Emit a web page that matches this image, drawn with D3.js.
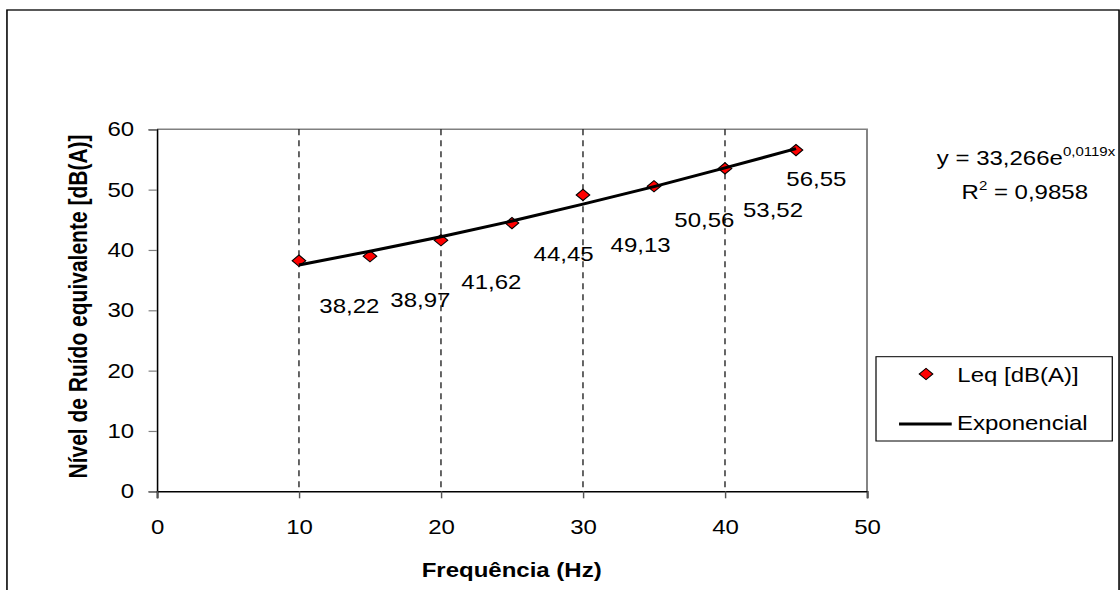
<!DOCTYPE html>
<html>
<head>
<meta charset="utf-8">
<script src="https://cdn.jsdelivr.net/npm/d3@7"></script>
<style>
  body { margin: 0; background: #fff; }
  svg { display: block; }
  text { font-family: "Liberation Sans", Arial, sans-serif; fill: #000; }
</style>
</head>
<body>
<svg id="chart"></svg>
<script>
// the original picture is stretched sideways, so draw in a narrower box and stretch it
var outW = 1120;
var outH = 590;
var stretch = 1.2;
var width = outW / stretch;
var height = outH;

// data
var freq = [10, 15, 20, 25, 30, 35, 40, 45];
var leq = [38.22, 38.97, 41.62, 44.45, 49.13, 50.56, 53.52, 56.55];
var labelText = ["38,22", "38,97", "41,62", "44,45", "49,13", "50,56", "53,52", "56,55"];
// trend line at each frequency
var trendValues = [37.5, 39.8, 42.2, 44.8, 47.6, 50.5, 53.6, 56.8];
var xTicks = [0, 10, 20, 30, 40, 50];
var yTicks = [0, 10, 20, 30, 40, 50, 60];
var gridTicks = [10, 20, 30, 40];

// where each data label sits relative to its point (labels were dragged by hand)
var labelDx = [42, 42, 42, 43, 48, 42, 40, 17];
var labelDy = [52, 51, 49, 38, 57, 41, 49, 36];

var svg = d3.select("#chart")
    .attr("width", outW)
    .attr("height", outH)
    .attr("viewBox", "0 0 " + width + " " + height)
    .attr("preserveAspectRatio", "none");

// outer frame (bottom is cut off in the picture)
svg.append("rect")
    .attr("x", 5.8)
    .attr("y", 10)
    .attr("width", width - 0.8 - 5.8)
    .attr("height", 620)
    .attr("fill", "none")
    .attr("stroke", "#000")
    .attr("stroke-width", 1.3);

var x = d3.scaleLinear().domain([0, 50]).range([130.8, 722.5]);
var y = d3.scaleLinear().domain([0, 60]).range([491.3, 129.3]);

// plot area border: top and right in grey
svg.append("path")
    .attr("d", "M" + x(0) + "," + y(60) + "H" + x(50) + "V" + y(0))
    .attr("fill", "none")
    .attr("stroke", "#808080")
    .attr("stroke-width", 1.6);

// dashed vertical gridlines
svg.selectAll(".grid")
    .data(gridTicks)
    .enter()
    .append("line")
    .attr("class", "grid")
    .attr("x1", function(d) { return x(d); })
    .attr("x2", function(d) { return x(d); })
    .attr("y1", y(60))
    .attr("y2", y(0))
    .attr("stroke", "#000")
    .attr("stroke-width", 1)
    .attr("stroke-dasharray", "6,5");

// y axis
var yAxis = d3.axisLeft(y).tickValues(yTicks).tickSize(7).tickPadding(12);
var yg = svg.append("g")
    .attr("transform", "translate(" + x(0) + ",0)")
    .call(yAxis);
yg.select(".domain").attr("stroke", "#000").attr("stroke-width", 1.3);
yg.selectAll(".tick line").attr("stroke", "#808080").attr("stroke-width", 1.2);
yg.selectAll(".tick text")
    .attr("font-size", "20px")
    .attr("font-family", "Liberation Sans, Arial, sans-serif");

// x axis
var xAxis = d3.axisBottom(x).tickValues(xTicks).tickSize(7);
var xg = svg.append("g")
    .attr("transform", "translate(0," + y(0) + ")")
    .call(xAxis);
xg.select(".domain").attr("stroke", "#000").attr("stroke-width", 1.5);
xg.selectAll(".tick line").attr("stroke", "#555").attr("stroke-width", 1.2);
xg.selectAll(".tick text")
    .attr("y", 43)
    .attr("dy", 0)
    .attr("font-size", "20px")
    .attr("font-family", "Liberation Sans, Arial, sans-serif");

// axis titles
svg.append("text")
    .attr("x", 426.4)
    .attr("y", 577)
    .attr("text-anchor", "middle")
    .attr("font-size", "20px")
    .attr("font-weight", "bold")
    .text("Frequência (Hz)");

svg.append("text")
    .attr("transform", "translate(72.2,306.5) rotate(-90)")
    .attr("text-anchor", "middle")
    .attr("font-size", "21px")
    .attr("font-weight", "bold")
    .text("Nível de Ruído equivalente [dB(A)]");

var diamond = d3.symbol().type(d3.symbolSquare).size(64);

// points
svg.selectAll(".pt")
    .data(freq)
    .enter()
    .append("path")
    .attr("class", "pt")
    .attr("d", diamond)
    .attr("transform", function(d, i) {
        return "translate(" + x(d) + "," + y(leq[i]) + ") rotate(45)";
    })
    .attr("fill", "#ff0000")
    .attr("stroke", "#000")
    .attr("stroke-width", 1);

// exponential trend line
var line = d3.line()
    .x(function(d, i) { return x(freq[i]); })
    .y(function(d) { return y(d); });

svg.append("path")
    .datum(trendValues)
    .attr("d", line)
    .attr("fill", "none")
    .attr("stroke", "#000")
    .attr("stroke-width", 3);

// data labels
svg.selectAll(".lbl")
    .data(freq)
    .enter()
    .append("text")
    .attr("class", "lbl")
    .attr("x", function(d, i) { return x(d) + labelDx[i]; })
    .attr("y", function(d, i) { return y(leq[i]) + labelDy[i]; })
    .attr("text-anchor", "middle")
    .attr("font-size", "20px")
    .text(function(d, i) { return labelText[i]; });

// trend equation
var eq = svg.append("text")
    .attr("x", 855)
    .attr("y", 165)
    .attr("text-anchor", "middle")
    .attr("font-size", "20px");
eq.append("tspan").text("y = 33,266e");
eq.append("tspan").attr("dy", -9).attr("font-size", "12.5px").text("0,0119x");

var r2 = svg.append("text")
    .attr("x", 854)
    .attr("y", 199)
    .attr("text-anchor", "middle")
    .attr("font-size", "20px");
r2.append("tspan").text("R");
r2.append("tspan").attr("dy", -9).attr("font-size", "12.5px").text("2");
r2.append("tspan").attr("dy", 9).text(" = 0,9858");

// legend
var legend = svg.append("g");
legend.append("rect")
    .attr("x", 730)
    .attr("y", 356.7)
    .attr("width", 196.9)
    .attr("height", 84.3)
    .attr("fill", "#fff")
    .attr("stroke", "#000")
    .attr("stroke-width", 1);
legend.append("path")
    .attr("d", diamond)
    .attr("transform", "translate(771.7,374) rotate(45)")
    .attr("fill", "#ff0000")
    .attr("stroke", "#000")
    .attr("stroke-width", 1);
legend.append("text")
    .attr("x", 797.8)
    .attr("y", 381.7)
    .attr("font-size", "20px")
    .text("Leq [dB(A)]");
legend.append("line")
    .attr("x1", 749.2)
    .attr("x2", 793.1)
    .attr("y1", 424)
    .attr("y2", 424)
    .attr("stroke", "#000")
    .attr("stroke-width", 3);
legend.append("text")
    .attr("x", 797.5)
    .attr("y", 430)
    .attr("font-size", "20px")
    .text("Exponencial");
</script>
</body>
</html>
